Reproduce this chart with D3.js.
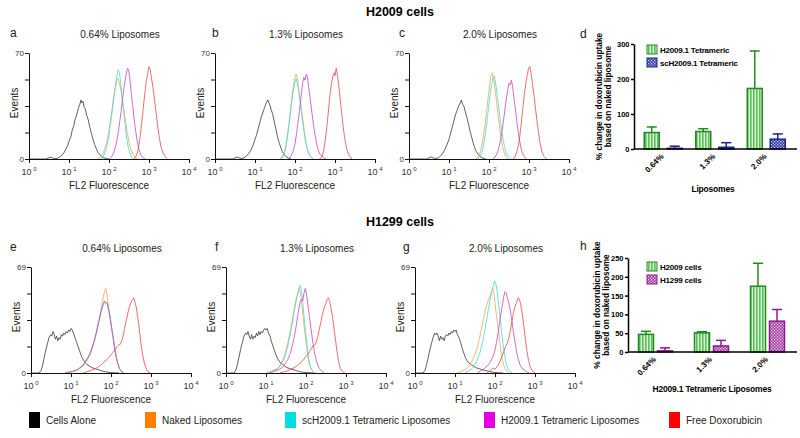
<!DOCTYPE html>
<html><head><meta charset="utf-8">
<script src="https://cdn.jsdelivr.net/npm/d3@7"></script>
<style>body{margin:0;background:#fff}svg{display:block;font-family:"Liberation Sans",Arial,sans-serif}</style>
</head><body><svg id="c" width="800" height="438"></svg>
<script>
// ---------- Flow cytometry histograms: [log10(FL2), events] ----------
const aCells=[[0,0],[0.42,0],[0.48,0.6],[0.53,1.1],[0.58,0.8],[0.63,0.2],[0.7,0.4],[0.76,1.2],[0.82,2.5],[0.87,4],[0.92,6.5],[0.97,9],[1.01,12.5],[1.05,15],[1.08,19],[1.12,22],[1.15,26],[1.18,28],[1.21,31],[1.24,34],[1.27,36],[1.3,39],[1.32,37],[1.35,38],[1.38,34],[1.41,33],[1.44,29],[1.48,26],[1.52,21],[1.56,17],[1.6,13],[1.64,9.5],[1.68,7],[1.72,4.5],[1.77,3],[1.82,1.5],[1.87,0.8],[1.93,0.3],[2.0,0]];
const aNaked=[[1.72,0],[1.8,1.5],[1.86,4],[1.91,8],[1.96,13],[2.0,19],[2.04,26],[2.08,33],[2.12,41],[2.16,47],[2.2,52],[2.23,53],[2.26,50],[2.3,45],[2.34,38],[2.38,31],[2.42,24],[2.46,17],[2.5,11],[2.55,6],[2.6,3],[2.66,1],[2.72,0]];
const aSc=[[1.8,0],[1.86,2],[1.91,5],[1.96,10],[2.0,16],[2.04,24],[2.08,32],[2.12,41],[2.16,49],[2.2,55],[2.23,59],[2.26,57],[2.29,51],[2.32,43],[2.36,33],[2.4,23],[2.44,14],[2.48,8],[2.52,4],[2.57,1],[2.62,0]];
const aTet=[[2.02,0],[2.08,2],[2.13,5],[2.18,10],[2.23,17],[2.27,25],[2.31,33],[2.35,42],[2.39,50],[2.43,56],[2.46,60],[2.49,59],[2.52,53],[2.55,45],[2.59,36],[2.63,26],[2.67,18],[2.71,11],[2.75,6],[2.79,3],[2.84,1],[2.9,0]];
const aDox=[[2.62,0],[2.68,2],[2.73,6],[2.77,13],[2.81,22],[2.85,32],[2.89,42],[2.93,51],[2.97,57],[3.0,61],[3.03,59],[3.06,54],[3.1,47],[3.14,39],[3.18,30],[3.22,21],[3.26,14],[3.3,8],[3.35,4],[3.4,1.5],[3.46,0]];

const bCells=[[0,0],[0.45,0],[0.5,0.7],[0.55,1.2],[0.6,0.9],[0.65,0.3],[0.72,0.6],[0.78,1.8],[0.84,3.5],[0.9,6],[0.95,9],[1.0,13],[1.04,16],[1.08,20],[1.12,24],[1.16,28],[1.2,31],[1.24,34],[1.28,37],[1.32,39],[1.35,37],[1.38,35],[1.41,32],[1.44,30],[1.48,25],[1.52,20],[1.56,15],[1.6,11],[1.64,8],[1.68,5],[1.73,3],[1.78,1.5],[1.84,0.5],[1.9,0]];
const bNaked=[[1.62,0],[1.68,1.5],[1.73,4],[1.77,9],[1.81,16],[1.85,24],[1.89,33],[1.93,42],[1.97,50],[2.0,54],[2.03,56],[2.06,53],[2.09,47],[2.13,39],[2.17,31],[2.21,23],[2.25,15],[2.29,9],[2.33,5],[2.38,2],[2.45,0]];
const bSc=[[1.66,0],[1.71,2],[1.76,6],[1.8,12],[1.84,20],[1.88,29],[1.92,38],[1.96,46],[2.0,51],[2.03,53],[2.06,50],[2.1,44],[2.14,36],[2.18,27],[2.22,19],[2.26,12],[2.3,7],[2.35,3],[2.41,1],[2.46,0]];
const bTet=[[1.84,0],[1.9,2],[1.95,5],[2.0,10],[2.04,17],[2.08,25],[2.12,34],[2.16,43],[2.19,50],[2.22,54],[2.25,52],[2.28,56],[2.31,54],[2.34,48],[2.38,40],[2.42,31],[2.46,23],[2.5,16],[2.54,10],[2.58,6],[2.63,3],[2.7,1],[2.77,0]];
const bDox=[[2.62,0],[2.68,2],[2.72,6],[2.76,13],[2.8,22],[2.84,33],[2.88,44],[2.92,51],[2.95,55],[2.98,57],[3.0,55],[3.03,60],[3.06,56],[3.1,47],[3.14,37],[3.18,27],[3.22,18],[3.26,11],[3.3,6],[3.35,2.5],[3.42,0]];

const cCells=[[0,0],[0.44,0],[0.5,0.8],[0.56,1.3],[0.61,0.6],[0.66,0.3],[0.73,0.7],[0.79,2],[0.85,4],[0.9,6.5],[0.95,9.5],[1.0,13],[1.04,17],[1.08,21],[1.12,25],[1.16,29],[1.2,32],[1.24,35],[1.28,37],[1.31,39],[1.34,36],[1.37,35],[1.4,32],[1.44,28],[1.48,24],[1.52,19],[1.56,15],[1.6,11],[1.64,7.5],[1.68,5],[1.73,3],[1.78,1.5],[1.85,0.5],[1.92,0]];
const cNaked=[[1.68,0],[1.74,2],[1.79,5],[1.83,10],[1.87,17],[1.91,25],[1.95,34],[1.99,43],[2.02,50],[2.05,55],[2.08,57],[2.11,54],[2.14,48],[2.18,40],[2.22,31],[2.26,22],[2.3,14],[2.34,8],[2.38,4],[2.43,1],[2.48,0]];
const cSc=[[1.72,0],[1.78,2],[1.83,5],[1.87,10],[1.91,17],[1.95,25],[1.99,34],[2.03,43],[2.07,50],[2.1,54],[2.13,55],[2.16,51],[2.19,45],[2.23,37],[2.27,28],[2.31,20],[2.35,13],[2.39,8],[2.43,4],[2.48,1.5],[2.54,0]];
const cTet=[[2.1,0],[2.17,2],[2.22,5],[2.27,10],[2.31,16],[2.35,23],[2.39,31],[2.43,39],[2.47,46],[2.5,50],[2.53,49],[2.56,52],[2.59,48],[2.62,41],[2.66,33],[2.7,24],[2.74,16],[2.78,10],[2.82,5],[2.87,2],[2.93,0]];
const cDox=[[2.6,0],[2.66,2],[2.71,6],[2.76,13],[2.8,22],[2.84,32],[2.88,42],[2.92,50],[2.96,56],[2.99,60],[3.02,61],[3.05,57],[3.08,51],[3.12,43],[3.16,34],[3.2,25],[3.24,17],[3.28,10],[3.32,5],[3.37,2],[3.44,0]];

const eCells=[[0,0],[0.2,0],[0.25,1.5],[0.29,5],[0.33,10],[0.37,15],[0.41,19],[0.45,23],[0.49,25],[0.52,24],[0.55,27],[0.58,25],[0.61,22],[0.64,24],[0.67,21],[0.7,23],[0.73,22],[0.76,25],[0.79,24],[0.82,26],[0.85,25],[0.88,27],[0.91,26],[0.94,28],[0.97,27],[1.0,29],[1.03,28],[1.06,26],[1.1,23],[1.14,20],[1.18,17],[1.22,14],[1.26,11],[1.3,9],[1.35,7],[1.4,5.5],[1.46,4.5],[1.52,3.5],[1.58,3],[1.64,2.5],[1.7,2],[1.78,1.3],[1.86,0.8],[1.95,0.4],[2.05,0.2],[2.2,0]];
const eNaked=[[0.85,0],[0.95,0.5],[1.05,1],[1.15,1.8],[1.22,3],[1.3,4.5],[1.36,6.5],[1.42,9],[1.48,12],[1.53,16],[1.58,20],[1.62,24],[1.66,29],[1.7,34],[1.74,40],[1.78,45],[1.81,50],[1.84,53],[1.87,55],[1.9,51],[1.93,45],[1.97,38],[2.01,31],[2.05,24],[2.09,17],[2.13,11],[2.17,6],[2.21,3],[2.26,1],[2.32,0]];
const eSc=[[0.85,0],[0.95,0.5],[1.05,1],[1.15,2],[1.22,3.2],[1.3,5],[1.36,7],[1.42,9.5],[1.48,13],[1.53,16.5],[1.58,20.5],[1.62,25],[1.66,29],[1.7,34],[1.74,38],[1.78,42],[1.81,45],[1.84,46],[1.87,45],[1.9,46],[1.93,42],[1.97,37],[2.01,31],[2.05,24],[2.09,17],[2.13,11],[2.17,6],[2.21,3],[2.26,1],[2.32,0]];
const eTet=[[0.85,0],[0.95,0.5],[1.05,1.2],[1.15,2],[1.22,3.5],[1.3,5],[1.36,7.5],[1.42,10],[1.48,13],[1.53,17],[1.58,21],[1.62,25],[1.66,30],[1.7,34],[1.74,39],[1.78,43],[1.81,45],[1.84,47],[1.87,46],[1.9,45],[1.93,43],[1.97,37],[2.01,30],[2.05,23],[2.09,16],[2.13,10],[2.17,6],[2.21,3],[2.26,1],[2.32,0]];
const eDox=[[1.3,0],[1.4,0.8],[1.5,1.5],[1.58,2.5],[1.66,3.5],[1.74,5],[1.82,7],[1.88,8.5],[1.94,10],[2.0,12],[2.05,13.5],[2.1,15],[2.14,17],[2.18,18],[2.22,18.5],[2.26,20],[2.3,24],[2.34,29],[2.38,34],[2.42,39],[2.46,43],[2.5,46],[2.54,48],[2.57,49],[2.6,46],[2.63,43],[2.67,36],[2.71,28],[2.75,19],[2.79,12],[2.83,7],[2.87,3.5],[2.92,1],[2.98,0]];

const fCells=[[0,0],[0.2,0],[0.25,2],[0.29,6],[0.33,11],[0.37,16],[0.41,20],[0.45,24],[0.49,26],[0.52,25],[0.55,27],[0.58,24],[0.61,22],[0.64,25],[0.67,22],[0.7,24],[0.73,23],[0.76,26],[0.79,24],[0.82,27],[0.85,25],[0.88,27],[0.91,26],[0.94,28],[0.97,29],[1.0,28],[1.03,29],[1.06,26],[1.1,24],[1.14,20],[1.18,17],[1.22,14],[1.26,11],[1.3,9],[1.35,7],[1.4,6],[1.46,4.5],[1.52,3.5],[1.58,3],[1.64,2.5],[1.7,2],[1.78,1.3],[1.86,0.8],[1.95,0.4],[2.05,0.2],[2.2,0]];
const fNaked=[[1.0,0],[1.1,0.8],[1.2,1.8],[1.28,3],[1.35,5],[1.41,8],[1.46,11],[1.5,15],[1.54,19],[1.58,24],[1.62,29],[1.66,35],[1.7,41],[1.74,46],[1.77,50],[1.8,53],[1.83,55],[1.86,52],[1.89,46],[1.92,38],[1.96,29],[2.0,20],[2.04,12],[2.08,6],[2.13,2.5],[2.2,0.5],[2.26,0]];
const fSc=[[1.05,0],[1.15,1],[1.24,2],[1.32,3.5],[1.39,6],[1.45,9],[1.5,13],[1.55,18],[1.6,24],[1.64,30],[1.68,36],[1.72,42],[1.76,48],[1.8,52],[1.83,55],[1.86,57],[1.89,53],[1.92,46],[1.95,37],[1.99,27],[2.03,17],[2.07,9],[2.11,4],[2.16,1.5],[2.22,0]];
const fTet=[[1.1,0],[1.2,1],[1.3,2],[1.4,3.5],[1.48,6],[1.55,9],[1.61,13],[1.66,18],[1.71,24],[1.75,30],[1.79,37],[1.83,43],[1.86,47],[1.89,48],[1.92,47],[1.95,52],[1.98,55],[2.01,52],[2.04,46],[2.08,38],[2.12,30],[2.16,22],[2.2,15],[2.24,10],[2.28,6],[2.33,3],[2.39,1.5],[2.46,0]];
const fDox=[[1.35,0],[1.45,0.8],[1.55,1.5],[1.63,2.5],[1.71,3.5],[1.79,5],[1.86,6.5],[1.92,8],[1.98,10],[2.04,12],[2.09,14],[2.13,16],[2.17,17.5],[2.21,18],[2.25,19.5],[2.29,23],[2.33,28],[2.37,33],[2.41,38],[2.45,42],[2.49,45],[2.53,48],[2.56,49],[2.59,47],[2.62,43],[2.66,37],[2.7,29],[2.74,21],[2.78,13],[2.82,7],[2.86,3],[2.91,1],[2.97,0]];

const gCells=[[0,0],[0.2,0],[0.25,1.8],[0.29,5.5],[0.33,10],[0.37,15],[0.41,19],[0.45,23],[0.49,26],[0.52,25],[0.55,26],[0.58,24],[0.61,21],[0.64,24],[0.67,22],[0.7,23],[0.73,21],[0.76,24],[0.79,25],[0.82,24],[0.85,26],[0.88,25],[0.91,27],[0.94,26],[0.97,28],[1.0,27],[1.03,28],[1.06,25],[1.1,23],[1.14,20],[1.18,16],[1.22,13],[1.26,10],[1.3,8],[1.35,6.5],[1.4,5.5],[1.46,4.5],[1.52,3.5],[1.58,3],[1.64,2.5],[1.7,2],[1.78,1.5],[1.86,1],[1.95,0.5],[2.05,0.2],[2.2,0]];
const gNaked=[[1.05,0],[1.15,1],[1.24,2],[1.32,3.5],[1.39,6],[1.45,9],[1.5,12],[1.55,16],[1.6,21],[1.64,26],[1.68,31],[1.72,36],[1.76,41],[1.8,45],[1.84,48],[1.88,50],[1.91,53],[1.94,55],[1.97,52],[2.0,46],[2.03,39],[2.07,31],[2.11,22],[2.15,14],[2.19,8],[2.23,4],[2.28,1.5],[2.34,0]];
const gSc=[[1.25,0],[1.35,1.5],[1.43,3],[1.5,5.5],[1.56,9],[1.62,13],[1.67,18],[1.72,24],[1.76,30],[1.8,36],[1.84,42],[1.88,48],[1.92,53],[1.96,57],[1.99,60],[2.02,58],[2.05,54],[2.08,47],[2.12,38],[2.16,28],[2.2,19],[2.24,12],[2.28,6],[2.32,3],[2.37,1],[2.43,0]];
const gTet=[[1.55,0],[1.65,1.5],[1.74,3],[1.82,5],[1.88,7],[1.94,10],[1.99,14],[2.03,19],[2.07,25],[2.11,32],[2.15,39],[2.19,45],[2.22,50],[2.25,53],[2.28,52],[2.31,49],[2.34,46],[2.38,41],[2.42,34],[2.46,27],[2.5,20],[2.54,14],[2.58,9],[2.63,5],[2.7,2.5],[2.78,1],[2.86,0]];
const gDox=[[1.8,0],[1.88,1.5],[1.94,3],[2.0,2.5],[2.05,4],[2.1,6],[2.14,8.5],[2.18,11],[2.22,14],[2.26,17],[2.3,19],[2.34,22],[2.38,27],[2.42,33],[2.46,39],[2.5,43],[2.54,46],[2.58,49],[2.61,48],[2.64,45],[2.68,39],[2.72,31],[2.76,22],[2.8,14],[2.84,8],[2.88,4],[2.93,1.5],[3.0,0]];

const decadeTicks=[0,1,2,3,4];
const panelTitles=["0.64%  Liposomes","1.3%  Liposomes","2.0%  Liposomes"];
const legendNames=["Cells Alone","Naked Liposomes","scH2009.1 Tetrameric Liposomes","H2009.1 Tetrameric Liposomes","Free Doxorubicin"];
const legendColors=["#000000","#ff8000","#00dede","#e000e0","#ff0000"];
const lineColors=["#3a3a3a","#f7a455","#3fdcdc","#c24cc4","#f04a4a"];

// ---------- Bar charts ----------
const barCats=["0.64%","1.3%","2.0%"];
const dTet=[47,50,173], dTetErr=[16,8,107];
const dSc=[2,5,28], dScErr=[6,13,15];
const dTicks=[0,100,200,300];
const hH2009=[47,51,175], hH2009Err=[8,3,61];
const hH1299=[3,16,82], hH1299Err=[8,15,31];
const hTicks=[0,50,100,150,200,250];

const svg=d3.select("#c");
const defs=svg.append("defs");
// patterns
const pg=defs.append("pattern").attr("id","pGreen").attr("patternUnits","userSpaceOnUse").attr("width",3).attr("height",6);
pg.append("rect").attr("width",3).attr("height",6).attr("fill","#d9f2d4");
pg.append("rect").attr("width",1.6).attr("height",6).attr("fill","#5cbf5c");
const pb=defs.append("pattern").attr("id","pNavy").attr("patternUnits","userSpaceOnUse").attr("width",3).attr("height",3);
pb.append("rect").attr("width",3).attr("height",3).attr("fill","#2b34a0");
pb.append("rect").attr("width",1.3).attr("height",1.3).attr("fill","#c8cdf0");
pb.append("rect").attr("x",1.5).attr("y",1.5).attr("width",1.3).attr("height",1.3).attr("fill","#c8cdf0");
const pp=defs.append("pattern").attr("id","pPurple").attr("patternUnits","userSpaceOnUse").attr("width",3).attr("height",3);
pp.append("rect").attr("width",3).attr("height",3).attr("fill","#a33aa3");
pp.append("rect").attr("width",1.3).attr("height",1.3).attr("fill","#f0d0f0");
pp.append("rect").attr("x",1.5).attr("y",1.5).attr("width",1.3).attr("height",1.3).attr("fill","#f0d0f0");

// titles
svg.append("text").attr("x",400).attr("y",16).attr("text-anchor","middle").attr("font-size",12.5).attr("font-weight","bold").text("H2009 cells");
svg.append("text").attr("x",400).attr("y",226).attr("text-anchor","middle").attr("font-size",12.5).attr("font-weight","bold").text("H1299 cells");

const panels=[
 {lab:"a",lx:10,title:panelTitles[0],x0:29,yTop:53,yBase:159,yMax:70,curves:[aCells,aNaked,aSc,aTet,aDox]},
 {lab:"b",lx:212,title:panelTitles[1],x0:215,yTop:53,yBase:159,yMax:70,curves:[bCells,bNaked,bSc,bTet,bDox]},
 {lab:"c",lx:399,title:panelTitles[2],x0:409,yTop:53,yBase:159,yMax:70,curves:[cCells,cNaked,cSc,cTet,cDox]},
 {lab:"e",lx:10,title:panelTitles[0],x0:31,yTop:267,yBase:373,yMax:69,curves:[eCells,eNaked,eSc,eTet,eDox]},
 {lab:"f",lx:215,title:panelTitles[1],x0:226,yTop:267,yBase:373,yMax:69,curves:[fCells,fNaked,fSc,fTet,fDox]},
 {lab:"g",lx:403,title:panelTitles[2],x0:415,yTop:267,yBase:373,yMax:69,curves:[gCells,gNaked,gSc,gTet,gDox]}
];

panels.forEach(p=>{
  const x=d3.scaleLinear().domain([0,4]).range([p.x0,p.x0+160]);
  const y=d3.scaleLinear().domain([0,p.yMax]).range([p.yBase,p.yTop]);
  const g=svg.append("g");
  const line=d3.line().x(d=>x(d[0])).y(d=>y(d[1]));
  p.curves.forEach((c,i)=>g.append("path").attr("d",line(c)).attr("fill","none")
     .attr("stroke",lineColors[i]).attr("stroke-width",0.9).attr("stroke-opacity",0.9).attr("stroke-linejoin","round"));
  const xa=g.append("g").attr("transform",`translate(0,${p.yBase})`)
     .call(d3.axisBottom(x).tickValues(decadeTicks).tickSize(4).tickSizeOuter(0).tickFormat(""));
  xa.attr("color","#111");
  xa.selectAll("path,line").attr("stroke-width",1);
  const ya=g.append("g").attr("transform",`translate(${p.x0},0)`)
     .call(d3.axisLeft(y).tickValues([0,p.yMax/4,p.yMax/2,3*p.yMax/4,p.yMax]).tickSize(4).tickSizeOuter(0).tickPadding(1)
       .tickFormat(d=>(d===0||d===p.yMax)?d:""));
  ya.attr("color","#111").attr("font-size",8).attr("font-family","Liberation Sans, Arial, sans-serif");
  ya.selectAll("text").attr("fill","#333");
  // decade labels
  decadeTicks.forEach(v=>{
    const t=g.append("text").attr("x",x(v)).attr("y",p.yBase+16).attr("text-anchor","middle").attr("font-size",9).attr("fill","#333");
    t.append("tspan").text("10");
    t.append("tspan").attr("dy",-4).attr("font-size",6).text(" "+v);
  });
  g.append("text").attr("x",p.lx).attr("y",p.yTop-16).attr("font-size",12).attr("fill","#222").text(p.lab);
  g.append("text").attr("x",p.x0+91).attr("y",p.yTop-15).attr("text-anchor","middle").attr("font-size",10).attr("fill","#222").text(p.title);
  g.append("text").attr("transform",`translate(${p.x0-11},${(p.yTop+p.yBase)/2-3}) rotate(-90)`).attr("text-anchor","middle").attr("font-size",10).attr("fill","#222").text("Events");
  g.append("text").attr("x",p.x0+80).attr("y",p.yBase+30).attr("text-anchor","middle").attr("font-size",10).attr("fill","#222").text("FL2 Fluorescence");
});

// bottom legend
const legX=[29,145,285,484,669];
legendNames.forEach((n,i)=>{
  svg.append("rect").attr("x",legX[i]).attr("y",412).attr("width",11).attr("height",16).attr("fill",legendColors[i]);
  svg.append("text").attr("x",legX[i]+17).attr("y",424).attr("font-size",10).attr("fill","#222").text(n);
});

function barChart(c){
  const y=d3.scaleLinear().domain(c.domain).range(c.yRange);
  const x=d3.scaleBand().domain(barCats).range(c.xRange);
  const sub=d3.scaleBand().domain([0,1]).range(c.subRange).paddingInner(c.pad);
  const g=svg.append("g").attr("font-family","Liberation Sans, Arial, sans-serif");
  c.series.forEach((s,si)=>{
    barCats.forEach((cat,i)=>{
      const bx=x(cat)+x.bandwidth()/2+sub(si);
      const bw=sub.bandwidth();
      const cx=bx+bw/2;
      const top=y(s.vals[i]+s.errs[i]);
      g.append("line").attr("x1",cx).attr("x2",cx).attr("y1",y(s.vals[i])).attr("y2",top).attr("stroke",s.stroke).attr("stroke-width",1.5);
      g.append("line").attr("x1",cx-5).attr("x2",cx+5).attr("y1",top).attr("y2",top).attr("stroke",s.stroke).attr("stroke-width",1.5);
      g.append("rect").attr("x",bx).attr("y",y(s.vals[i])).attr("width",bw).attr("height",y(0)-y(s.vals[i]))
        .attr("fill",s.fill).attr("stroke",s.stroke).attr("stroke-width",1.5);
    });
  });
  // axes
  const ya=g.append("g").attr("transform",`translate(${c.axisX},0)`)
    .call(d3.axisLeft(y).tickValues(c.ticks).tickSize(3).tickSizeOuter(0).tickPadding(1.5));
  ya.attr("color","#000").attr("font-size",7.5).attr("font-weight","bold").attr("font-family","Liberation Sans, Arial, sans-serif");
  ya.selectAll("path,line").attr("stroke-width",1.5);
  g.append("line").attr("x1",c.axisX).attr("x2",797).attr("y1",y(0)).attr("y2",y(0)).attr("stroke","#000").attr("stroke-width",1.5);
  barCats.forEach(cat=>{
    g.append("text").attr("transform",`translate(${x(cat)+x.bandwidth()/2+1},${y(0)+8}) rotate(-45)`)
      .attr("text-anchor","end").attr("font-size",8).attr("font-weight","bold").text(cat);
  });
  g.append("text").attr("x",c.xTitleX).attr("y",c.xTitleY).attr("text-anchor","middle").attr("font-size",8.5).attr("font-weight","bold").attr("letter-spacing",-0.2).text(c.xTitle);
  const ym=(c.yRange[0]+c.yRange[1])/2;
  g.append("text").attr("transform",`translate(${c.t1x},${ym}) rotate(-90)`).attr("text-anchor","middle").attr("font-size",8.3).attr("font-weight","bold").text("% change in doxorubicin uptake");
  g.append("text").attr("transform",`translate(${c.t1x+8.5},${ym}) rotate(-90)`).attr("text-anchor","middle").attr("font-size",8.3).attr("font-weight","bold").text("based on naked liposome");
  g.append("text").attr("x",580).attr("y",c.labY).attr("font-size",12).attr("fill","#222").text(c.lab);
  c.series.forEach((s,si)=>{
    g.append("rect").attr("x",647).attr("y",c.legY+si*13).attr("width",10).attr("height",9).attr("fill",s.fill).attr("stroke",s.stroke).attr("stroke-width",1);
    g.append("text").attr("x",660).attr("y",c.legY+si*13+8).attr("font-size",8).attr("font-weight","bold").attr("letter-spacing",-0.2).text(s.name);
  });
}

barChart({lab:"d",labY:38,domain:[0,300],yRange:[149,44],xRange:[637.5,792],subRange:[-19,19],pad:8/23,axisX:634,ticks:dTicks,
  xTitle:"Liposomes",xTitleX:713,xTitleY:192,legY:45,t1x:602,
  series:[{name:"H2009.1 Tetrameric",vals:dTet,errs:dTetErr,fill:"url(#pGreen)",stroke:"#1e8c1e"},
          {name:"scH2009.1 Tetrameric",vals:dSc,errs:dScErr,fill:"url(#pNavy)",stroke:"#1a2290"}]});
barChart({lab:"h",labY:250,domain:[0,250],yRange:[352,258],xRange:[627.5,795.5],subRange:[-17,17],pad:4/19,axisX:628,ticks:hTicks,
  xTitle:"H2009.1 Tetrameric Liposomes",xTitleX:712,xTitleY:392,legY:262,t1x:600,
  series:[{name:"H2009 cells",vals:hH2009,errs:hH2009Err,fill:"url(#pGreen)",stroke:"#1e8c1e"},
          {name:"H1299 cells",vals:hH1299,errs:hH1299Err,fill:"url(#pPurple)",stroke:"#8c1a8c"}]});
</script></body></html>
